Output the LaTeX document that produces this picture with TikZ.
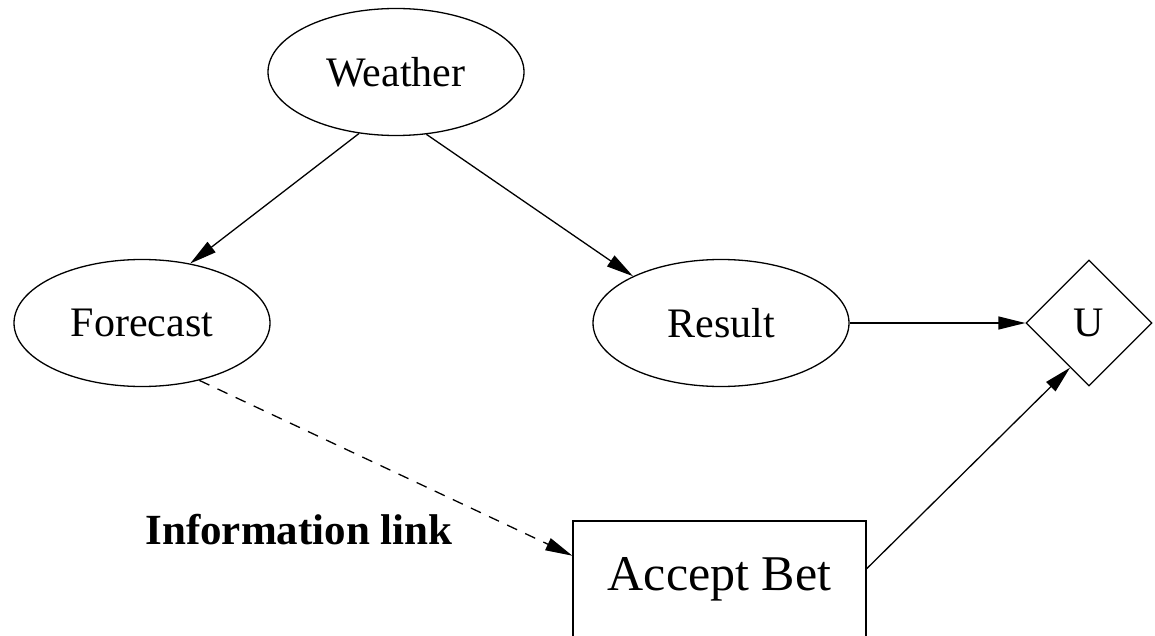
\documentclass[tikz,border=0pt]{standalone}
\usepackage{fontspec}
\setmainfont{Liberation Serif}
\usetikzlibrary{shapes.geometric,arrows.meta}
\begin{document}
\begin{tikzpicture}[x=1pt,y=-1pt,
  every node/.style={font=\fontsize{42}{50}\selectfont, inner sep=0pt},
  chance/.style={draw, ellipse, line width=1.3pt, minimum width=256pt, minimum height=127pt},
  utility/.style={draw, diamond, line width=1.3pt, minimum width=126pt, minimum height=126pt},
  decision/.style={draw, rectangle, line width=1.3pt, minimum width=293pt, minimum height=116pt,
                   font=\fontsize{50}{60}\selectfont},
  edge/.style={line width=1.3pt, -{Triangle[length=27pt,width=13pt]}},
  infolink/.style={edge, dash pattern=on 11pt off 9pt}]
  \clip (0,0) rectangle (1155,636);
  \fill[white] (0,0) rectangle (1155,636);

  \node[chance]   (weather)  at (396,72)    {Weather};
  \node[chance]   (forecast) at (142,323)   {Forecast};
  \node[chance]   (result)   at (721,323)   {Result};
  \node[utility]  (u)        at (1089,323)  {U};
  \node[decision] (accept)   at (719.5,579) {Accept Bet};
  \node[font=\fontsize{43}{50}\selectfont\bfseries] (label) at (299,530) {Information link};

  \draw[edge] (weather.239.5) -- (forecast.51.9);
  \draw[edge] (weather.296.2) -- (result.152.7);
  \draw[edge] (result.east) -- (u.west);
  \draw[edge] (accept.4.3) -- (u.247.2);
  \draw[infolink] (forecast.315.5) -- (accept.171.8);
\end{tikzpicture}
\end{document}
